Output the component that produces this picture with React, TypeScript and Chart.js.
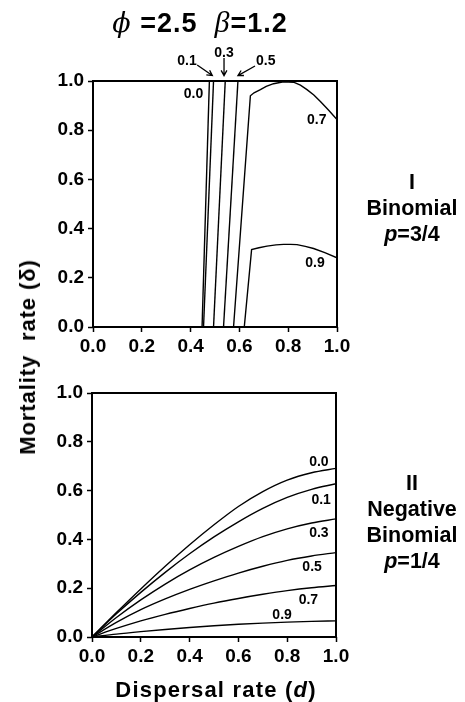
import React, { useEffect, useRef } from "react";
import { Chart, registerables } from "chart.js";
Chart.register(...registerables);

// ---------- DATA ----------
const curveNames = ["0.0", "0.1", "0.3", "0.5", "0.7", "0.9"];

// Panel I  (Binomial, p = 3/4)
const bin00X = [0.447, 0.477];
const bin00Y = [0, 1];
const bin01X = [0.453, 0.494];
const bin01Y = [0, 1];
const bin03X = [0.494, 0.542];
const bin03Y = [0, 1];
const bin05X = [0.535, 0.594];
const bin05Y = [0, 1];
const bin07X = [0.576, 0.645, 0.66, 0.686, 0.71, 0.74, 0.781, 0.822, 0.85, 0.877, 0.905, 0.932, 0.965, 1.0];
const bin07Y = [0, 0.94, 0.952, 0.965, 0.978, 0.989, 0.997, 0.995, 0.983, 0.965, 0.943, 0.917, 0.882, 0.843];
const bin09X = [0.62, 0.65, 0.68, 0.713, 0.75, 0.781, 0.81, 0.836, 0.87, 0.904, 0.95, 1.0];
const bin09Y = [0, 0.315, 0.322, 0.329, 0.334, 0.336, 0.336, 0.335, 0.328, 0.319, 0.302, 0.281];

// Panel II (Negative Binomial, p = 1/4)
const dispersal = [0, 0.1, 0.2, 0.3, 0.4, 0.5, 0.6, 0.7, 0.8, 0.9, 1.0];
const neg00 = [0, 0.1, 0.197, 0.29, 0.378, 0.46, 0.535, 0.596, 0.643, 0.673, 0.691];
const neg01 = [0, 0.095, 0.183, 0.265, 0.341, 0.41, 0.472, 0.527, 0.572, 0.605, 0.628];
const neg03 = [0, 0.08, 0.152, 0.217, 0.275, 0.326, 0.371, 0.411, 0.443, 0.467, 0.484];
const neg05 = [0, 0.06, 0.112, 0.156, 0.195, 0.23, 0.262, 0.29, 0.314, 0.332, 0.346];
const neg07 = [0, 0.035, 0.066, 0.093, 0.117, 0.139, 0.158, 0.175, 0.19, 0.202, 0.211];
const neg09 = [0, 0.012, 0.022, 0.031, 0.039, 0.046, 0.052, 0.057, 0.061, 0.064, 0.066];

const tickValues = [0, 0.2, 0.4, 0.6, 0.8, 1.0];

// ---------- ANNOTATION PLACEMENT (data coords) ----------
const topLabels = [
  { t: curveNames[0], x: 0.412, y: 0.947 },
  { t: curveNames[1], x: 0.385, y: 1.081 },
  { t: curveNames[2], x: 0.537, y: 1.115 },
  { t: curveNames[3], x: 0.708, y: 1.08 },
  { t: curveNames[4], x: 0.917, y: 0.841 },
  { t: curveNames[5], x: 0.91, y: 0.26 },
];
const topArrows = [
  { x1: 0.427, y1: 1.065, x2: 0.489, y2: 1.022 },
  { x1: 0.537, y1: 1.094, x2: 0.537, y2: 1.022 },
  { x1: 0.664, y1: 1.061, x2: 0.594, y2: 1.022 },
];
const bottomLabels = [
  { t: curveNames[0], x: 0.93, y: 0.717 },
  { t: curveNames[1], x: 0.939, y: 0.561 },
  { t: curveNames[2], x: 0.93, y: 0.426 },
  { t: curveNames[3], x: 0.902, y: 0.287 },
  { t: curveNames[4], x: 0.887, y: 0.152 },
  { t: curveNames[5], x: 0.779, y: 0.09 },
];

const FONT = "'Liberation Sans', Arial, Helvetica, sans-serif";

function zip(xs: number[], ys: number[]) {
  return xs.map((x, i) => ({ x, y: ys[i] }));
}

function makeAnnotPlugin(labels: any[], arrows: any[]) {
  return {
    id: "annot",
    afterDraw(chart: any) {
      const { ctx, chartArea, scales } = chart;
      const xs = scales.x;
      const ys = scales.y;
      ctx.save();
      ctx.strokeStyle = "#000";
      ctx.lineWidth = 2;
      ctx.strokeRect(chartArea.left, chartArea.top, chartArea.right - chartArea.left, chartArea.bottom - chartArea.top);
      ctx.fillStyle = "#000";
      ctx.font = `bold 14px ${FONT}`;
      ctx.textAlign = "center";
      ctx.textBaseline = "middle";
      labels.forEach((l) => {
        ctx.fillText(l.t, xs.getPixelForValue(l.x), ys.getPixelForValue(l.y));
      });
      ctx.lineWidth = 1.3;
      arrows.forEach((a) => {
        const x1 = xs.getPixelForValue(a.x1);
        const y1 = ys.getPixelForValue(a.y1);
        const x2 = xs.getPixelForValue(a.x2);
        const y2 = ys.getPixelForValue(a.y2);
        ctx.beginPath();
        ctx.moveTo(x1, y1);
        ctx.lineTo(x2, y2);
        const ang = Math.atan2(y2 - y1, x2 - x1);
        const h = 6;
        ctx.moveTo(x2 - h * Math.cos(ang - 0.5), y2 - h * Math.sin(ang - 0.5));
        ctx.lineTo(x2, y2);
        ctx.lineTo(x2 - h * Math.cos(ang + 0.5), y2 - h * Math.sin(ang + 0.5));
        ctx.stroke();
      });
      ctx.restore();
    },
  };
}

function axisOpts(isX: boolean) {
  return {
    type: "linear",
    min: 0,
    max: 1,
    afterBuildTicks: (scale: any) => {
      scale.ticks = tickValues.map((v) => ({ value: v }));
    },
    afterFit: (scale: any) => {
      if (isX) scale.height = 30;
      else scale.width = 50;
    },
    grid: {
      display: true,
      drawOnChartArea: false,
      drawTicks: true,
      tickLength: 5,
      tickWidth: 1.5,
      tickColor: "#000",
    },
    border: { display: false },
    ticks: {
      color: "#000",
      padding: isX ? 3 : 4,
      font: { family: FONT, size: 19, weight: "bold" },
      callback: (v: any) => Number(v).toFixed(1),
    },
  };
}

function lineDS(data: any[], smooth: boolean) {
  return {
    data,
    borderColor: "#000",
    borderWidth: 1.4,
    pointRadius: 0,
    fill: false,
    tension: 0,
    cubicInterpolationMode: smooth ? "monotone" : "default",
  };
}

function PanelChart(props: { datasets: any[]; labels: any[]; arrows: any[]; height: number; padTop: number; padBottom: number; padLeft: number; padRight: number; }) {
  const ref = useRef<HTMLCanvasElement | null>(null);
  useEffect(() => {
    if (!ref.current) return;
    const chart = new Chart(ref.current, {
      type: "line",
      data: { datasets: props.datasets },
      options: {
        animation: false,
        responsive: false,
        parsing: false as any,
        events: [],
        layout: {
          padding: { top: props.padTop, bottom: props.padBottom, left: props.padLeft, right: props.padRight },
        },
        plugins: { legend: { display: false }, tooltip: { enabled: false }, title: { display: false } },
        scales: { x: axisOpts(true) as any, y: axisOpts(false) as any },
      },
      plugins: [makeAnnotPlugin(props.labels, props.arrows)],
    });
    return () => chart.destroy();
  }, []);
  return <canvas ref={ref} width={465} height={props.height} style={{ display: "block", width: 465, height: props.height }} />;
}

export default function App() {
  const topSets = [
    lineDS(zip(bin00X, bin00Y), false),
    lineDS(zip(bin01X, bin01Y), false),
    lineDS(zip(bin03X, bin03Y), false),
    lineDS(zip(bin05X, bin05Y), false),
    lineDS(zip(bin07X, bin07Y), false),
    lineDS(zip(bin09X, bin09Y), false),
  ];
  const botSets = [neg00, neg01, neg03, neg05, neg07, neg09].map((s) => lineDS(zip(dispersal, s), true));

  const side: React.CSSProperties = {
    position: "absolute",
    width: 130,
    textAlign: "center",
    fontFamily: FONT,
    fontWeight: "bold",
    fontSize: 21.5,
    lineHeight: "26px",
    color: "#000",
  };

  return (
    <div style={{ position: "absolute", left: 0, top: 0, width: 465, height: 702, background: "#fff", overflow: "hidden" }}>
      <div style={{ position: "absolute", left: 0, top: 0 }}>
        <PanelChart datasets={topSets} labels={topLabels} arrows={topArrows} height={360} padTop={81} padBottom={3} padLeft={43} padRight={128} />
      </div>
      <div style={{ position: "absolute", left: 0, top: 360 }}>
        <PanelChart datasets={botSets} labels={bottomLabels} arrows={[]} height={342} padTop={33} padBottom={35} padLeft={42} padRight={129} />
      </div>

      {/* Title */}
      <div style={{ position: "absolute", left: 0, width: 400, top: 6, textAlign: "center", fontFamily: FONT, fontWeight: "bold", fontSize: 27, letterSpacing: 1, lineHeight: "32px", whiteSpace: "pre", color: "#000" }}>
        <span style={{ fontFamily: "'DejaVu Serif', 'Liberation Serif', serif", fontStyle: "italic", fontWeight: "normal", fontSize: 27 }}>ϕ</span>
        {" =2.5  "}
        <span style={{ fontFamily: "'Liberation Serif', 'DejaVu Serif', serif", fontStyle: "italic", fontWeight: "normal", fontSize: 30 }}>β</span>
        {"=1.2"}
      </div>

      {/* Right labels panel I */}
      <div style={{ ...side, left: 347, top: 169 }}>
        <div>I</div>
        <div>Binomial</div>
        <div><i>p</i>=3/4</div>
      </div>
      {/* Right labels panel II */}
      <div style={{ ...side, left: 347, top: 470 }}>
        <div>II</div>
        <div>Negative</div>
        <div>Binomial</div>
        <div><i>p</i>=1/4</div>
      </div>

      {/* Y axis title */}
      <div style={{ position: "absolute", left: 28, top: 357, width: 0, height: 0 }}>
        <div style={{ position: "absolute", transform: "translate(-50%, -50%) rotate(-90deg)", whiteSpace: "pre", fontFamily: FONT, fontWeight: "bold", fontSize: 22, letterSpacing: 0.9, lineHeight: "24px", color: "#000" }}>
          {"Mortality  rate (δ)"}
        </div>
      </div>

      {/* X axis title */}
      <div style={{ position: "absolute", left: 0, width: 432, top: 677, textAlign: "center", fontFamily: FONT, fontWeight: "bold", fontSize: 22, letterSpacing: 1.2, lineHeight: "26px", color: "#000", whiteSpace: "pre" }}>
        Dispersal rate (<i>d</i>)
      </div>
    </div>
  );
}
